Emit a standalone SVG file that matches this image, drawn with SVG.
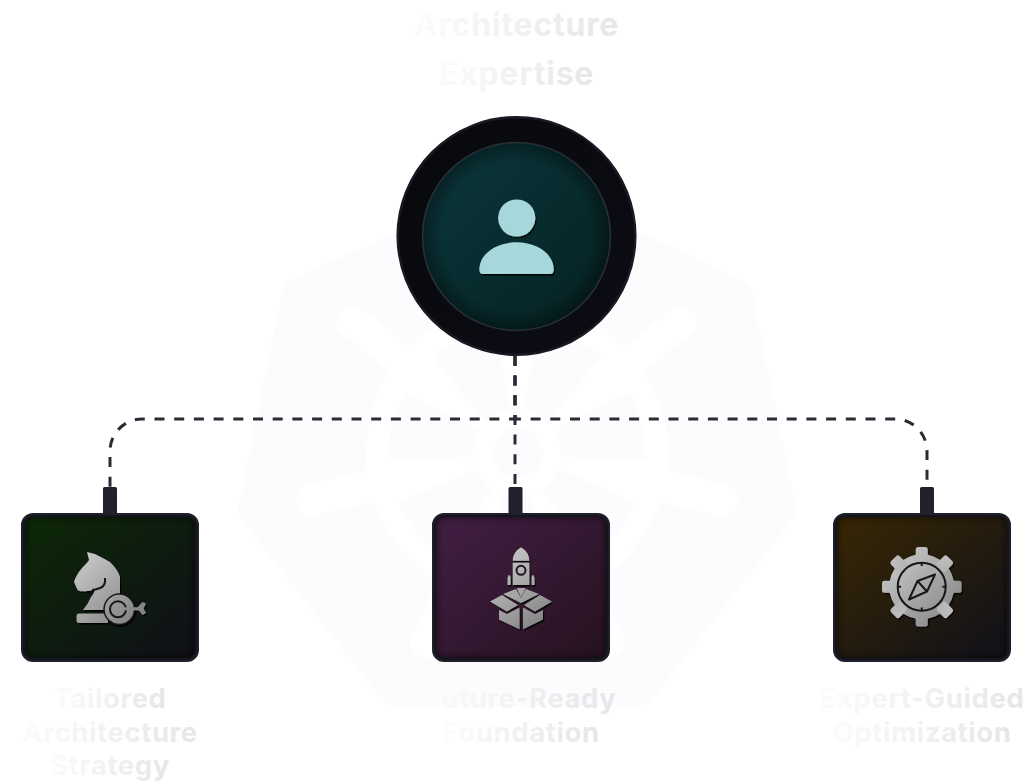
<svg xmlns="http://www.w3.org/2000/svg" xmlns:xlink="http://www.w3.org/1999/xlink" width="1029" height="781" viewBox="0 0 1029 781">
<style>
.t{font-family:Inter,"Liberation Sans",sans-serif;font-weight:700;text-anchor:middle;fill:url(#tg)}
.t1{font-size:32px;letter-spacing:.8px}.t2{font-size:27.5px;letter-spacing:.6px}
.c{fill:none;stroke:#2a2b35;stroke-width:3;stroke-dasharray:10 9.7}
.box{stroke:#1f202b;stroke-width:4}
.tab{fill:#20212c}
.ish{fill:none;stroke:#000;stroke-opacity:.45;stroke-width:8;filter:url(#b)}
.d{fill:none;stroke:#17151a;stroke-width:2}
.w{fill:#fff}.p{fill:#fcfcfe}
</style>
<defs>
<linearGradient id="tg" x1="0" y1="0" x2="1" y2="0.1"><stop offset="0" stop-color="#fdfdfd"/><stop offset="1" stop-color="#e7e7ea"/></linearGradient>
<linearGradient id="ring" x1="0" y1="0" x2="1" y2="1"><stop offset="0" stop-color="#08090c"/><stop offset="1" stop-color="#0c0c15"/></linearGradient>
<linearGradient id="teal" x1="0" y1="0" x2="1" y2="1"><stop offset="0" stop-color="#0b383d"/><stop offset="1" stop-color="#052020"/></linearGradient>
<radialGradient id="vig"><stop offset=".8" stop-color="#000" stop-opacity="0"/><stop offset="1" stop-color="#000" stop-opacity=".35"/></radialGradient>
<linearGradient id="gg" x1="0" y1="0" x2="1" y2="1"><stop offset="0" stop-color="#0c2806"/><stop offset="1" stop-color="#0f0f18"/></linearGradient>
<linearGradient id="gp" x1="0" y1="0" x2="1" y2="1"><stop offset="0" stop-color="#421e44"/><stop offset="1" stop-color="#25121f"/></linearGradient>
<linearGradient id="gb" x1="0" y1="0" x2="1" y2="1"><stop offset="0" stop-color="#382703"/><stop offset="1" stop-color="#10101a"/></linearGradient>
<linearGradient id="i1" gradientUnits="userSpaceOnUse" x1="75" y1="550" x2="148" y2="625"><stop offset="0" stop-color="#d0d0d0"/><stop offset="1" stop-color="#787878"/></linearGradient>
<linearGradient id="i2" gradientUnits="userSpaceOnUse" x1="490" y1="548" x2="552" y2="630"><stop offset="0" stop-color="#d0d0d0"/><stop offset="1" stop-color="#7c7c7c"/></linearGradient>
<linearGradient id="i3" gradientUnits="userSpaceOnUse" x1="882" y1="547" x2="962" y2="627"><stop offset="0" stop-color="#d0d0d0"/><stop offset="1" stop-color="#808080"/></linearGradient>
<filter id="b" x="-20%" y="-20%" width="140%" height="140%"><feGaussianBlur stdDeviation="3"/></filter>
<filter id="sh" x="-20%" y="-20%" width="140%" height="140%"><feDropShadow dx="1.2" dy="1.5" stdDeviation=".6" flood-color="#000" flood-opacity=".9"/></filter>
<clipPath id="c1"><rect x="23" y="515" width="174" height="145" rx="10"/></clipPath>
<clipPath id="c2"><rect x="434" y="515" width="174" height="145" rx="10"/></clipPath>
<clipPath id="c3"><rect x="835" y="515" width="174" height="145" rx="10"/></clipPath>
<g id="spoke"><polygon points="512,413 522,413 544,305 490,305" class="w"/><line x1="517" y1="320" x2="517" y2="243" stroke="#fff" stroke-width="32" stroke-linecap="round"/></g>
</defs>

<g id="watermark">
<polygon points="517,190 738,294 782,510 640,692 394,692 252,510 296,294" class="p" stroke="#fcfcfe" stroke-width="28" stroke-linejoin="round"/>
<circle cx="517" cy="453" r="151" class="w"/>
<circle cx="517" cy="453" r="128" class="p"/>
<use xlink:href="#spoke"/>
<use xlink:href="#spoke" transform="rotate(51.43 517 453)"/>
<use xlink:href="#spoke" transform="rotate(102.86 517 453)"/>
<use xlink:href="#spoke" transform="rotate(154.29 517 453)"/>
<use xlink:href="#spoke" transform="rotate(205.71 517 453)"/>
<use xlink:href="#spoke" transform="rotate(257.14 517 453)"/>
<use xlink:href="#spoke" transform="rotate(308.57 517 453)"/>
<circle cx="517" cy="453" r="44" class="w"/>
<circle cx="518" cy="453" r="25" class="p"/>
</g>

<g id="connectors">
<path class="c" d="M515 355.800V419H142A32 32 0 0 0 110 451V487"/>
<path class="c" d="M515 355.800V419H895A32 32 0 0 1 927 451V487"/>
<path class="c" d="M515 355.800V487"/>
<rect class="tab" x="103" y="487" width="14" height="28" rx="1.500"/>
<rect class="tab" x="508.500" y="487" width="14" height="28" rx="1.500"/>
<rect class="tab" x="920" y="487" width="14" height="28" rx="1.500"/>
</g>

<g id="node-main">
<circle cx="516.500" cy="236" r="118.800" fill="url(#ring)" stroke="#181921" stroke-width="2.500"/>
<circle cx="516.500" cy="236.500" r="94" fill="url(#teal)" stroke="#2a2e35" stroke-width="1.500"/>
<circle cx="516.500" cy="236.500" r="93" fill="url(#vig)"/>
<g fill="#a6d7db" filter="url(#sh)">
<circle cx="516.700" cy="218" r="18.600"/>
<path d="M479.300 269.500C479.300 254 496 242.300 516.500 242.300S553.700 254 553.700 269.500Q553.700 274 550 274H483Q479.300 274 479.300 269.500Z"/>
</g>
<text class="t t1" x="516.500" y="36">Architecture</text>
<text class="t t1" x="516.500" y="85">Expertise</text>
</g>

<g id="node-strategy">
<rect class="box" x="23" y="515" width="174" height="145" rx="10" fill="url(#gg)"/>
<rect class="ish" x="23" y="515" width="174" height="145" rx="10" clip-path="url(#c1)"/>
<g filter="url(#sh)">
<path fill="url(#i1)" d="M87 552L95 554Q103 558 110 562Q118 570 120 577V600L105 610H83Q88 604 91 597Q95 592 95 589Q88 592 82 591Q79 592 77 589L74 582Q76 575 82 568Q88 562 89 560Z"/>
<path fill="url(#i1)" d="M79 613.500H108V623H79Q76.500 623 76.500 620V616.500Q76.500 613.500 79 613.500Z"/>
<path class="d" d="M105 578Q106 586 100 588Q95 590 92 590"/>
<circle cx="119.300" cy="609.300" r="16" fill="#17151a"/>
<circle cx="119.300" cy="609.300" r="14.500" fill="url(#i1)"/>
<circle cx="118" cy="609.300" r="8" fill="none" stroke="#17151a" stroke-width="2"/>
<rect x="117" y="607.300" width="24" height="3" fill="url(#i1)"/>
<path fill="url(#i1)" d="M137 608L142.500 602L146 603.500L143.500 608.500L146 613L142.500 615Z"/>
</g>
</g>
<text class="t t2" x="110" y="708">Tailored</text>
<text class="t t2" x="110" y="742">Architecture</text>
<text class="t t2" x="110" y="775">Strategy</text>

<g id="node-foundation">
<rect class="box" x="434" y="515" width="174" height="145" rx="10" fill="url(#gp)"/>
<rect class="ish" x="434" y="515" width="174" height="145" rx="10" clip-path="url(#c2)"/>
<g fill="url(#i2)" filter="url(#sh)">
<path d="M521 547.300Q529 552 529.300 560.700H512.700Q513 552 521 547.300Z"/>
<path d="M512.700 562.700H529.300V585H512.700Z"/>
<circle cx="521" cy="570.300" r="4.500" fill="none" stroke="#241024" stroke-width="2"/>
<path d="M508.500 575Q510.500 575 510.500 577V585H507.500V578ZM533.500 575Q531.500 575 531.500 577V585H534.500V578Z"/>
<path d="M516.700 588H525.700L521 597.500Z"/>
<polygon points="490,601.500 502,595 518,605 507,611.500"/>
<polygon points="552,601.500 540,595 524,605 535,611.500"/>
<polygon points="503,594 516,589 521,598 526,589 539,594 521,603"/>
<polygon points="499,610 507,614 519.500,607.500 519.500,629.300 499,619.500"/>
<polygon points="543,610 535,614 523,607.500 523,629.300 543,619.500"/>
</g>
</g>
<text class="t t2" x="521" y="708">Future-Ready</text>
<text class="t t2" x="521" y="742">Foundation</text>

<g id="node-optimization">
<rect class="box" x="835" y="515" width="174" height="145" rx="10" fill="url(#gb)"/>
<rect class="ish" x="835" y="515" width="174" height="145" rx="10" clip-path="url(#c3)"/>
<g filter="url(#sh)">
<g fill="url(#i3)">
<circle cx="921.700" cy="586.700" r="32.500"/>
<rect x="915.700" y="547" width="12" height="14" rx="2.500"/>
<rect x="915.700" y="612.500" width="12" height="14" rx="2.500"/>
<rect x="882" y="580.700" width="14" height="12" rx="2.500"/>
<rect x="947.500" y="580.700" width="14" height="12" rx="2.500"/>
<rect x="915.700" y="547" width="12" height="14" rx="2.500" transform="rotate(45 921.700 586.700)"/>
<rect x="915.700" y="547" width="12" height="14" rx="2.500" transform="rotate(135 921.700 586.700)"/>
<rect x="915.700" y="547" width="12" height="14" rx="2.500" transform="rotate(225 921.700 586.700)"/>
<rect x="915.700" y="547" width="12" height="14" rx="2.500" transform="rotate(315 921.700 586.700)"/>
</g>
<circle cx="921.700" cy="586.700" r="24" class="d"/>
<path class="d" d="M921.700 562.700V566M921.700 607.500V610.700M897.700 586.700H901M942.500 586.700H945.700"/>
<path class="d" stroke-linejoin="round" d="M935 574.500L917.500 581L909 599.500L927 591.500ZM917.500 581L927 591.500"/>
</g>
</g>
<text class="t t2" x="922" y="708">Expert-Guided</text>
<text class="t t2" x="922" y="742">Optimization</text>
</svg>
